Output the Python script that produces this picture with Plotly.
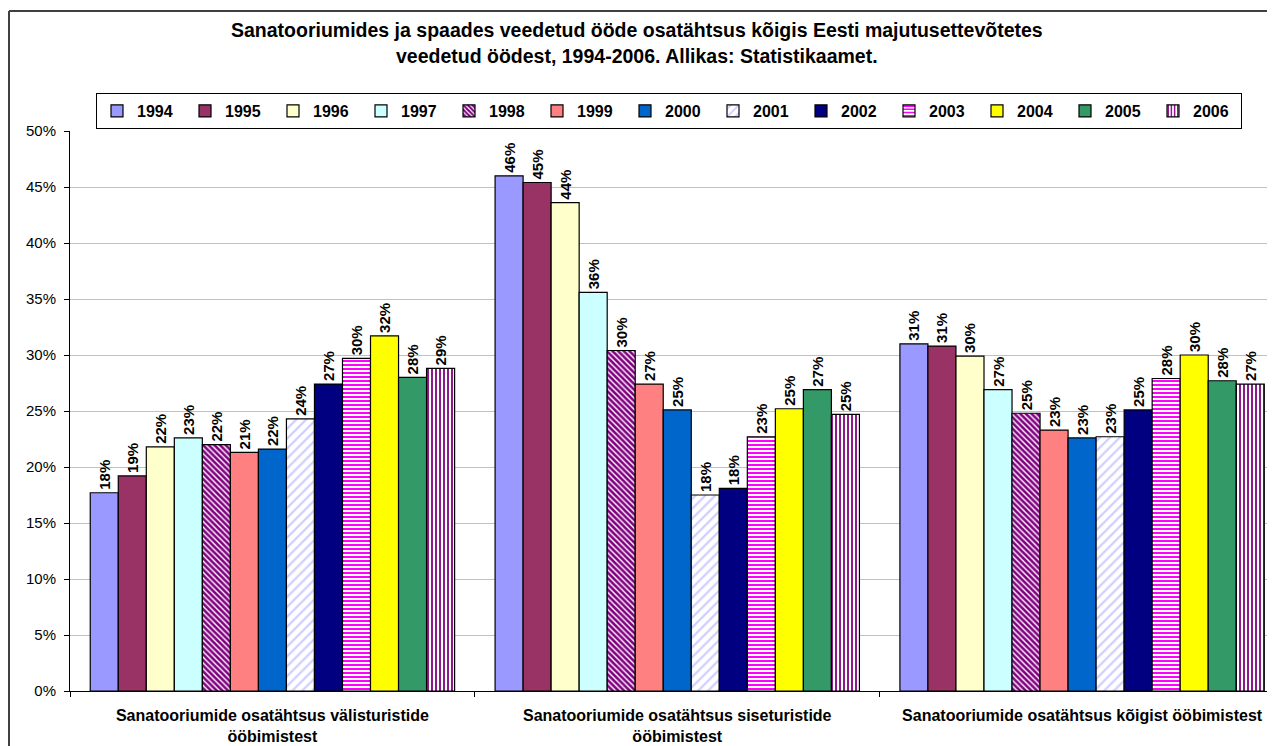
import plotly.graph_objects as go

categories = [
    "Sanatooriumide osatähtsus välisturistide<br>ööbimistest",
    "Sanatooriumide osatähtsus siseturistide<br>ööbimistest",
    "Sanatooriumide osatähtsus kõigist ööbimistest",
]
years = ["1994", "1995", "1996", "1997", "1998", "1999", "2000",
         "2001", "2002", "2003", "2004", "2005", "2006"]

v1994 = [17.7, 46.0, 31.0]
v1995 = [19.2, 45.4, 30.8]
v1996 = [21.8, 43.6, 29.9]
v1997 = [22.6, 35.6, 26.9]
v1998 = [22.0, 30.4, 24.8]
v1999 = [21.3, 27.4, 23.3]
v2000 = [21.6, 25.1, 22.6]
v2001 = [24.3, 17.5, 22.7]
v2002 = [27.4, 18.1, 25.1]
v2003 = [29.7, 22.7, 27.9]
v2004 = [31.7, 25.2, 30.0]
v2005 = [28.0, 26.9, 27.7]
v2006 = [28.8, 24.7, 27.4]
series = [v1994, v1995, v1996, v1997, v1998, v1999, v2000,
          v2001, v2002, v2003, v2004, v2005, v2006]

ytick_values = [0, 5, 10, 15, 20, 25, 30, 35, 40, 45, 50]
ytick_labels = ["0%", "5%", "10%", "15%", "20%", "25%", "30%", "35%", "40%", "45%", "50%"]

colors = ["#9999FF", "#993366", "#FFFFCC", "#CCFFFF", "#800080", "#FF8080",
          "#0066CC", "#CCCCFF", "#000080", "#FF00FF", "#FFFF00", "#339966", "#800080"]
patterns = {4: ("\\", 4, 0.65), 7: ("/", 7, 0.3), 9: ("-", 4, 0.5), 12: ("|", 4, 0.45)}

FONT = "Liberation Sans, Arial, sans-serif"

# figure is drawn at an 8px page offset; figure size 1267x738
W, H = 1267, 738
L, T, B = 62, 123, 55
PW, PH = W - L, H - T - B


def px_x(x):
    return (x - L) / PW


def px_y(y):
    return (T + PH - y) / PH


fig = go.Figure()
for i, (yr, vals) in enumerate(zip(years, series)):
    marker = dict(color=colors[i], line=dict(color="#000000", width=1.2))
    if i in patterns:
        shp, sz, sol = patterns[i]
        marker["pattern"] = dict(shape=shp, size=sz, solidity=sol,
                                 fgcolor=colors[i], bgcolor="#FFFFFF",
                                 fillmode="replace", fgopacity=1)
    fig.add_trace(go.Bar(
        name=yr, x=categories, y=vals, marker=marker,
        text=[f"{round(v):.0f}%" for v in vals],
        textposition="outside", textangle=-90, constraintext="none",
        cliponaxis=False,
        textfont=dict(family=FONT, size=15, color="#000000", weight="bold"),
    ))

fig.update_layout(
    width=W, height=H,
    margin=dict(l=L, r=0, t=T, b=B),
    paper_bgcolor="#FFFFFF", plot_bgcolor="#FFFFFF",
    barmode="group", bargap=0.1, bargroupgap=0,
    font=dict(family=FONT, size=14, color="#000000"),
    showlegend=True,
    legend=dict(
        orientation="h", xref="container", yref="container",
        x=88 / W, y=1 - 85 / H, xanchor="left", yanchor="top",
        bgcolor="#FFFFFF", bordercolor="#000000", borderwidth=1,
        font=dict(family=FONT, size=16, color="#000000", weight="bold"),
        entrywidth=43, entrywidthmode="pixels", traceorder="normal",
        itemwidth=30,
    ),
    xaxis=dict(
        type="category", range=[-0.5, 2.4765], showline=True, linecolor="#000000",
        linewidth=1, ticks="outside", tickson="boundaries", ticklen=5,
        tickcolor="#000000", showgrid=False, automargin=False,
        ticklabelstandoff=10,
        tickfont=dict(family=FONT, size=16, color="#000000", weight="bold"),
    ),
    yaxis=dict(
        range=[0, 50], tickmode="array", tickvals=ytick_values, ticktext=ytick_labels,
        showline=True, linecolor="#000000", linewidth=1, automargin=False,
        ticks="outside", ticklen=5, tickcolor="#000000", ticklabelstandoff=5,
        showgrid=True, gridcolor="#C0C0C0", gridwidth=1, zeroline=False,
        tickfont=dict(family=FONT, size=15, color="#000000"),
    ),
    annotations=[
        dict(text="Sanatooriumides ja spaades veedetud ööde osatähtsus kõigis Eesti majutusettevõtetes",
             xref="paper", yref="paper", x=px_x(629), y=px_y(22), showarrow=False,
             xanchor="center", yanchor="middle",
             font=dict(family=FONT, size=19.5, color="#000000", weight="bold")),
        dict(text="veedetud öödest, 1994-2006. Allikas: Statistikaamet.",
             xref="paper", yref="paper", x=px_x(629), y=px_y(48), showarrow=False,
             xanchor="center", yanchor="middle",
             font=dict(family=FONT, size=19.5, color="#000000", weight="bold")),
    ],
    shapes=[
        dict(type="line", xref="paper", yref="paper", x0=px_x(1), x1=px_x(1),
             y0=px_y(760), y1=px_y(3), line=dict(color="#404040", width=2)),
        dict(type="line", xref="paper", yref="paper", x0=px_x(1), x1=px_x(1290),
             y0=px_y(3), y1=px_y(3), line=dict(color="#404040", width=2)),
    ],
)

fig.write_html("out.html")
